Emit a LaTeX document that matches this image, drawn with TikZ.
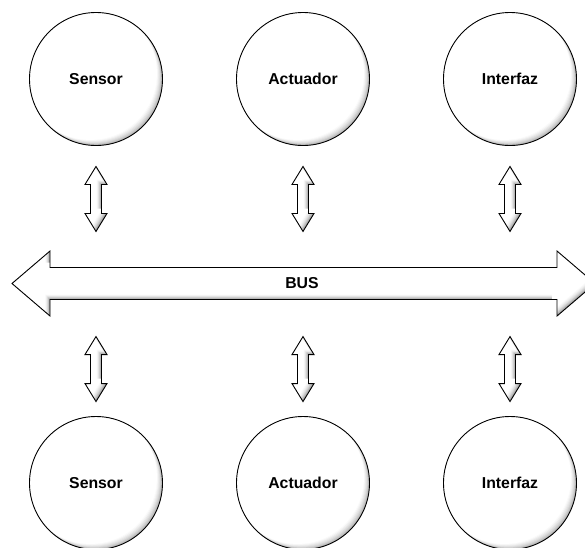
\documentclass[tikz,border=0pt]{standalone}
\usepackage{fontspec}
\setmainfont{Liberation Sans}
\usetikzlibrary{calc}

% Block arrow with a soft inner shadow along its lower right edges.
% #1: start coordinate (a tip), #2: the rest of the outline, relative moves only.
\newcommand\shadedblock[2]{%
  \begin{scope}
    \clip (#1) #2;
    \fill[black!38] (#1) #2;
    \foreach \dd/\cc in {0.7/29,1.4/21,2.1/14,2.8/9,3.5/5,4.2/2,4.9/0}
      \fill[black!\cc] ([shift={(-\dd,-\dd)}]#1) #2;
  \end{scope}
  \draw[outline] (#1) #2;
}

% Vertical double arrow, 65 units long, hanging down from its top tip.
\newcommand\vdoublearrow[1]{%
  \shadedblock{#1}{-- ++(11,18) -- ++(-5.5,0) -- ++(0,29) -- ++(5.5,0)
    -- ++(-11,18) -- ++(-11,-18) -- ++(5.5,0) -- ++(0,-29) -- ++(-5.5,0) -- cycle}%
}

\begin{document}
\begin{tikzpicture}[x=1pt,y=-1pt,
  outline/.style={draw=black,line width=0.9pt,line join=miter},
  label/.style={font=\fontsize{15.8}{18}\selectfont\bfseries},
  unit/.style={circle,outline,fill=white,minimum size=133pt,inner sep=0pt,label,
    path picture={
      \fill[black!30] (path picture bounding box.center) circle (70pt);
      \foreach \dd/\cc in {0.8/24,1.6/18,2.4/13,3.2/9,4.0/5,4.8/2,5.6/0}
        \fill[black!\cc] ([shift={(-\dd,-\dd)}]path picture bounding box.center) circle (66.5pt);
    }},
]
\useasboundingbox (0,0) rectangle (585,547);

% devices above the bus
\node[unit] (s1) at (96,79)  {Sensor};
\node[unit] (a1) at (303,79) {Actuador};
\node[unit] (i1) at (510,79) {Interfaz};

% devices below the bus
\node[unit] (s2) at (96,483)  {Sensor};
\node[unit] (a2) at (303,483) {Actuador};
\node[unit] (i2) at (510,483) {Interfaz};

% the bus itself
\coordinate (busL) at (12,283.5);
\shadedblock{busL}{-- ++(38,-32.5) -- ++(0,16.5) -- ++(507,0) -- ++(0,-16.5)
  -- ++(38,32.5) -- ++(-38,32.5) -- ++(0,-16.5) -- ++(-507,0) -- ++(0,16.5) -- cycle}
\node[label] (bus) at (302,283.5) {BUS};

% links between the devices and the bus
\foreach \n in {s1,a1,i1}
  \coordinate (\n top) at ($(\n.south)+(0,20.5)$);
\foreach \n in {s2,a2,i2}
  \coordinate (\n top) at ($(\n.north)+(0,-79.5)$);
\vdoublearrow{s1top}
\vdoublearrow{a1top}
\vdoublearrow{i1top}
\vdoublearrow{s2top}
\vdoublearrow{a2top}
\vdoublearrow{i2top}
\end{tikzpicture}
\end{document}
